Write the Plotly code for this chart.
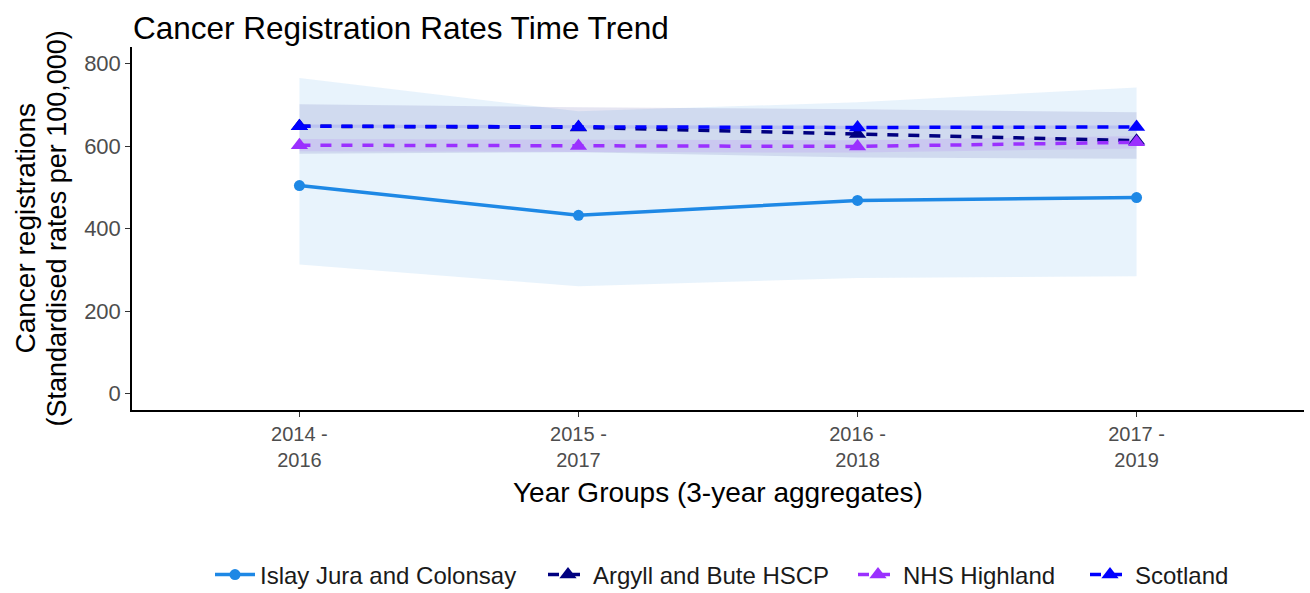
import plotly.graph_objects as go

# ---- data ----
year_groups = ["2014 - 2016", "2015 - 2017", "2016 - 2018", "2017 - 2019"]
tick_labels = ["2014 -<br>2016", "2015 -<br>2017", "2016 -<br>2018", "2017 -<br>2019"]

islay = [504, 432, 468, 475]
islay_lo = [313, 260, 280, 284]
islay_hi = [765, 684, 706, 742]

argyll = [648, 645, 629, 613]
argyll_lo = [581, 585, 572, 569]
argyll_hi = [701, 694, 689, 682]

highland = [602, 600, 599, 609]
highland_lo = [587, 585, 584, 594]
highland_hi = [617, 615, 614, 624]

scotland = [648, 646, 645, 646]
scotland_lo = [644, 642, 641, 642]
scotland_hi = [652, 650, 649, 650]

series_names = ["Islay Jura and Colonsay", "Argyll and Bute HSCP", "NHS Highland", "Scotland"]

# ---- styling ----
FONT = "Liberation Sans, Arial, sans-serif"
line_colors = ["#1E88E5", "#000080", "#9B30FF", "#0000FF"]
band_colors = ["rgba(30,136,229,0.10)", "rgba(0,0,128,0.10)", "rgba(155,48,255,0.10)", "rgba(0,0,255,0.10)"]
legend_widths = [278, 255, 177, 100]

vals = [islay, argyll, highland, scotland]
los = [islay_lo, argyll_lo, highland_lo, scotland_lo]
his = [islay_hi, argyll_hi, highland_hi, scotland_hi]

fig = go.Figure()

# ribbons
for name, lo, hi, bc in zip(series_names, los, his, band_colors):
    fig.add_trace(go.Scatter(
        x=year_groups + year_groups[::-1],
        y=hi + lo[::-1],
        fill="toself", fillcolor=bc, mode="lines",
        line=dict(width=0, color=bc), hoverinfo="skip", showlegend=False,
    ))

# lines
styles = [
    dict(dash="solid", symbol="circle", size=11),
    dict(dash="11px,10px", symbol="triangle-up", size=15),
    dict(dash="11px,10px", symbol="triangle-up", size=15),
    dict(dash="11px,10px", symbol="triangle-up", size=15),
]
for name, v, lc, st, lw in zip(series_names, vals, line_colors, styles, legend_widths):
    fig.add_trace(go.Scatter(
        x=year_groups, y=v, name=name, mode="lines+markers",
        line=dict(color=lc, width=3.5, dash=st["dash"]),
        marker=dict(color=lc, symbol=st["symbol"], size=st["size"]),
        legendwidth=lw,
    ))

L, R, T, B = 132, 6, 47, 183
PH = 593 - T - B

fig.update_layout(
    width=1310, height=593,
    margin=dict(l=L, r=R, t=T, b=B, autoexpand=False),
    paper_bgcolor="white", plot_bgcolor="white",
    font=dict(family=FONT, color="#000000"),
    title=dict(text="Cancer Registration Rates Time Trend",
               font=dict(size=31.5, family=FONT, color="#000000"),
               xref="container", yref="container",
               x=133 / 1310, xanchor="left", y=1 - 28 / 593, yanchor="middle"),
    showlegend=True,
    legend=dict(orientation="h", xref="container", yref="container",
                x=210 / 1310, xanchor="left",
                y=1 - 575 / 593, yanchor="middle",
                font=dict(size=24, family=FONT, color="#1a1a1a"),
                itemwidth=40, bgcolor="rgba(0,0,0,0)"),
    xaxis=dict(
        type="category", categoryorder="array", categoryarray=year_groups,
        tickmode="array", tickvals=year_groups, ticktext=tick_labels,
        range=[-0.6, 3.6], showgrid=False, zeroline=False,
        showline=True, linecolor="#000000", linewidth=1.5,
        ticks="outside", ticklen=5, tickcolor="#333333", tickwidth=1.2,
        tickfont=dict(size=20, family=FONT, color="#4D4D4D"),
    ),
    yaxis=dict(
        range=[-40, 840], tickvals=[0, 200, 400, 600, 800],
        showgrid=False, zeroline=False,
        showline=True, linecolor="#000000", linewidth=1.5,
        ticks="outside", ticklen=5, tickcolor="#333333", tickwidth=1.2,
        tickfont=dict(size=22, family=FONT, color="#4D4D4D"),
    ),
    annotations=[
        dict(text="Year Groups (3-year aggregates)", xref="paper", yref="paper",
             x=(718 - L) / (1310 - L - R), y=(593 - B - 492) / PH, xanchor="center", yanchor="middle",
             showarrow=False, font=dict(size=28, family=FONT, color="#000000")),
        dict(text="Cancer registrations",
             xref="paper", yref="paper", textangle=-90,
             x=(25 - L) / (1310 - L - R), y=0.5, xanchor="center", yanchor="middle",
             showarrow=False, font=dict(size=28, family=FONT, color="#000000")),
        dict(text="(Standardised rates per 100,000)",
             xref="paper", yref="paper", textangle=-90,
             x=(56 - L) / (1310 - L - R), y=0.5, xanchor="center", yanchor="middle",
             showarrow=False, font=dict(size=27, family=FONT, color="#000000")),
    ],
)

fig.write_html("out.html", config={"displayModeBar": False},
               post_script="document.body.style.margin='0';")
